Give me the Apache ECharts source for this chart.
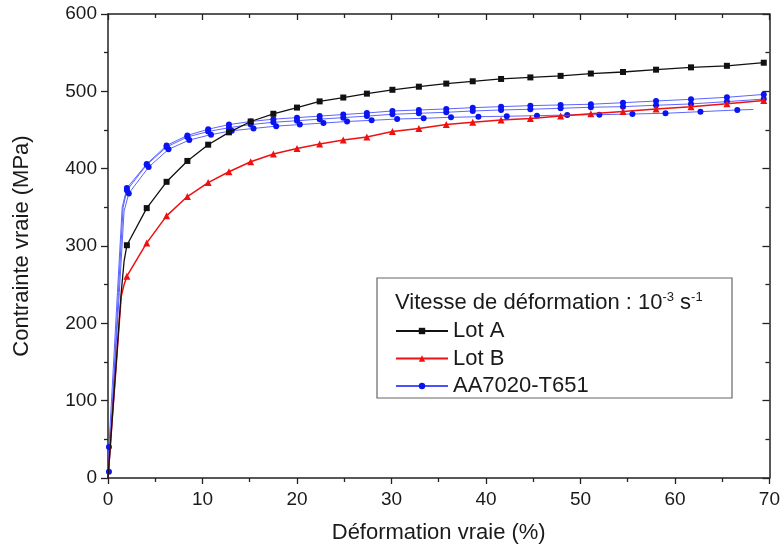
<!DOCTYPE html>
<html>
<head>
<meta charset="utf-8">
<script src="https://cdn.jsdelivr.net/npm/echarts@6/dist/echarts.min.js"></script>
<style>html,body{margin:0;padding:0;background:#fff}#c{width:783px;height:549px}</style>
</head>
<body>
<div id="c"></div>
<script>
// Shared strain sampling (%)
var strainX = [2.0, 4.1, 6.2, 8.4, 10.6, 12.8, 15.1, 17.5, 20.0, 22.4, 24.9, 27.4, 30.1, 32.9, 35.8, 38.6, 41.6, 44.7, 47.9, 51.1, 54.5, 58.0, 61.7, 65.5, 69.4];
// Lot A (MPa)
var lotAElasticX = [0, 1.4, 1.7];
var lotAElasticY = [0, 240, 280];
var lotAY = [301, 349, 383, 410, 431, 447, 461, 471, 479, 487, 492, 497, 502, 506, 510, 513, 516, 518, 520, 523, 525, 528, 531, 533, 537];
// Lot B (MPa)
var lotBElasticX = [0, 1.4, 1.7];
var lotBElasticY = [0, 235, 250];
var lotBY = [261, 304, 339, 364, 382, 396, 409, 419, 426, 432, 437, 441, 448, 452, 457, 460, 463, 465, 468, 471, 474, 477, 480, 484, 488];
// AA7020-T651, three tests (MPa)
var aa1ElasticX = [0, 0.1, 1.0, 1.5];
var aa1ElasticY = [0, 40, 240, 350];
var aa1Y = [375, 406, 430, 443, 451, 457, 461, 464, 466, 468, 470, 472, 474.6, 475.9, 477.2, 478.9, 480.2, 481.5, 482.4, 483.3, 485.3, 487.5, 489.7, 492.3, 496];
var aa2ElasticX = [0, 0.1, 1.1, 1.6];
var aa2ElasticY = [0, 8, 240, 350];
var aa2Y = [372, 405, 428, 441, 448, 453, 457, 460, 462, 464, 466, 468, 470.3, 471.6, 472.9, 474.6, 475.9, 476.8, 478.1, 479.4, 480.2, 482, 483.7, 486.7, 490];
var aa3ElasticX = [0, 1.2, 1.7];
var aa3ElasticY = [0, 240, 345];
var aa3X = [2.2, 4.3, 6.4, 8.6, 10.9, 13.1, 15.4, 17.8, 20.3, 22.8, 25.3, 27.9, 30.6, 33.4, 36.3, 39.2, 42.2, 45.4, 48.6, 52.0, 55.5, 59.0, 62.7, 66.6];
var aa3Y = [368, 402, 425, 437, 444, 449, 452, 455, 457, 459, 461, 462.5, 464.2, 465.1, 466.4, 467.2, 467.8, 468.5, 469.4, 469.8, 470.7, 471.6, 473.7, 475.9];
var aa3EndX = [68.3];
var aa3EndY = [476.5];

var seriesNames = ['Lot A', 'Lot B', 'AA7020-T651'];

function build(ex, ey, xs, ys, tx, ty, markedElastic) {
  var d = [];
  for (var i = 0; i < ex.length; i++) {
    var item = {value: [ex[i], ey[i]]};
    if (!(markedElastic && markedElastic.indexOf(i) >= 0)) item.symbol = 'none';
    d.push(item);
  }
  for (var j = 0; j < ys.length; j++) d.push({value: [xs[j], ys[j]]});
  if (tx) for (var k = 0; k < tx.length; k++) d.push({value: [tx[k], ty[k]], symbol: 'none'});
  return d;
}

var FONT = 'Liberation Sans, Arial, sans-serif';
var TXT = '#1a1a1a';
var chart = echarts.init(document.getElementById('c'), null, {renderer: 'canvas'});

function lineSeries(name, data, color, symbol, size, lw, lineColor, z) {
  return {
    name: name, type: 'line', data: data, symbol: symbol, symbolSize: size,
    showAllSymbol: true, animation: false, z: z || 2,
    lineStyle: {color: lineColor || color, width: lw},
    itemStyle: {color: color}
  };
}

var tickStyle = {color: '#222', width: 1.3};
var option = {
  animation: false,
  backgroundColor: '#fff',
  grid: {left: 108, right: 10, top: 14, bottom: 71},
  xAxis: [{
    type: 'value', min: 0, max: 70, interval: 10,
    name: 'Déformation vraie (%)', nameLocation: 'middle', nameGap: 44,
    nameTextStyle: {fontFamily: FONT, fontSize: 22, color: TXT},
    axisLine: {show: true, onZero: false, lineStyle: {color: '#222', width: 1.5}},
    axisTick: {show: true, inside: false, length: 6, lineStyle: tickStyle},
    minorTick: {show: true, splitNumber: 2, length: 4, lineStyle: tickStyle},
    axisLabel: {fontFamily: FONT, fontSize: 19, color: TXT, margin: 12},
    splitLine: {show: false}
  }, {
    type: 'value', min: 0, max: 70, interval: 10, position: 'top',
    axisLine: {show: true, onZero: false, lineStyle: {color: '#222', width: 1.5}},
    axisTick: {show: true, inside: true, length: 6, lineStyle: tickStyle},
    minorTick: {show: true, splitNumber: 2, length: 4, lineStyle: tickStyle},
    axisLabel: {show: false}, splitLine: {show: false}
  }],
  yAxis: [{
    type: 'value', min: 0, max: 600, interval: 100,
    name: 'Contrainte vraie (MPa)', nameLocation: 'middle', nameGap: 75, nameRotate: 90,
    nameTextStyle: {fontFamily: FONT, fontSize: 22, color: TXT},
    axisLine: {show: true, onZero: false, lineStyle: {color: '#222', width: 1.5}},
    axisTick: {show: true, inside: false, length: 7, lineStyle: tickStyle},
    minorTick: {show: true, splitNumber: 2, length: 4, lineStyle: tickStyle},
    axisLabel: {fontFamily: FONT, fontSize: 19, color: TXT, margin: 11},
    splitLine: {show: false}
  }, {
    type: 'value', min: 0, max: 600, interval: 100, position: 'right',
    axisLine: {show: true, onZero: false, lineStyle: {color: '#222', width: 1.5}},
    axisTick: {show: true, inside: true, length: 7, lineStyle: tickStyle},
    minorTick: {show: true, splitNumber: 2, length: 4, lineStyle: tickStyle},
    axisLabel: {show: false}, splitLine: {show: false}
  }],
  legend: {
    data: seriesNames, orient: 'vertical', left: 395, top: 320, padding: 0,
    itemWidth: 52, itemHeight: 8, itemGap: 5.5,
    textStyle: {fontFamily: FONT, fontSize: 22, lineHeight: 22, color: TXT, padding: [0, 0, 0, 0]},
    selectedMode: false
  },
  graphic: [{
    type: 'rect', shape: {x: 377, y: 278, width: 355, height: 120}, z: 0,
    style: {fill: '#fff', stroke: '#666', lineWidth: 1.2}
  }, {
    type: 'text', left: 395, top: 291, z: 10,
    style: {
      text: 'Vitesse de déformation : 10{sup|-3} s{sup|-1}',
      fontFamily: FONT, fontSize: 22, fill: TXT,
      rich: {sup: {fontFamily: FONT, fontSize: 13, fill: TXT, verticalAlign: 'top', padding: [0, 0, 10, 0]}}
    }
  }],
  series: [
    lineSeries('AA7020-T651', build(aa3ElasticX, aa3ElasticY, aa3X, aa3Y, aa3EndX, aa3EndY), '#0a14f0', 'circle', 6, 0.9, '#4a52ff', 2),
    lineSeries('AA7020-T651', build(aa2ElasticX, aa2ElasticY, strainX, aa2Y, null, null, [1]), '#0a14f0', 'circle', 6, 0.9, '#4a52ff', 2),
    lineSeries('AA7020-T651', build(aa1ElasticX, aa1ElasticY, strainX, aa1Y, null, null, [1]), '#0a14f0', 'circle', 6, 0.9, '#4a52ff', 2),
    lineSeries('Lot B', build(lotBElasticX, lotBElasticY, strainX, lotBY), '#ee1111', 'triangle', 7, 1.5, '#ee1111', 3),
    lineSeries('Lot A', build(lotAElasticX, lotAElasticY, strainX, lotAY), '#111', 'rect', 6, 1.3, '#111', 4)
  ]
};
chart.setOption(option);
</script>
</body>
</html>
